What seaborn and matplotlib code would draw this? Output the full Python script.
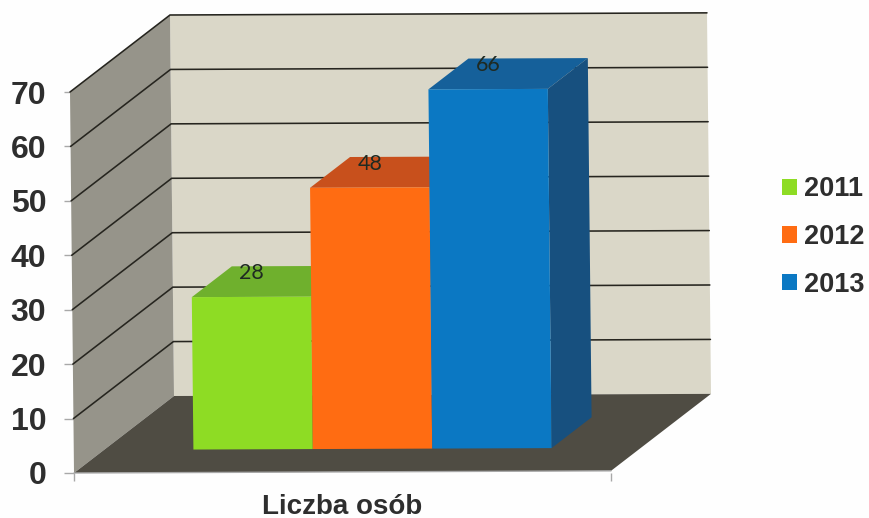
import matplotlib
matplotlib.use("Agg")
import matplotlib.pyplot as plt
import numpy as np
import pandas as pd
import seaborn as sns
from matplotlib.lines import Line2D
from matplotlib.patches import Polygon
from matplotlib.transforms import Affine2D, IdentityTransform

# data
years = ["2011", "2012", "2013"]
values = [28, 48, 66]
category = ["Liczba osób"]
y_ticks = [0, 10, 20, 30, 40, 50, 60, 70]

front_colors = ["#8EDC24", "#FF6C12", "#0B78C3"]
top_colors = ["#6FB02D", "#C8501C", "#15609A"]
side_colors = ["#5C9426", "#A34318", "#17507F"]

WALL = "#DAD7C8"
SIDE_WALL = "#96948A"
FLOOR = "#4F4C43"
GRID = "#26251F"
TEXT = "#2E2E2E"

W, H = 869, 518
DPI = 100

# depth of the fake 3D box in pixels
DEPTH_X, DEPTH_Y = 100, 77
BAR_FRONT = 0.30
BAR_BACK = 0.70

sns.set_style("white")
plt.rcParams["font.family"] = ["Liberation Sans", "DejaVu Sans"]

df = pd.DataFrame({
    "kategoria": category * len(years),
    "rok": years,
    "wartosc": values,
})

fig = plt.figure(figsize=(W / DPI, H / DPI), dpi=DPI, facecolor="#FEFEFE")
ax = fig.add_axes([74 / W, (H - 473) / H, 537 / W, 381 / H])
ax.patch.set_visible(False)

sns.barplot(
    data=df, x="kategoria", y="wartosc", hue="rok", hue_order=years,
    palette=front_colors, width=0.667, saturation=1, linewidth=0, ax=ax,
)
ax.set_xlim(-0.5, 0.5)
ax.set_ylim(0, 70)

# the scan is slightly crooked, so everything in the plot gets a small shear
x0, y0 = ax.transAxes.transform((0, 0))
shear = (
    Affine2D().translate(-x0, -y0)
    + Affine2D.from_values(1, 0.004, -0.0105, 1, 0, 0)
    + Affine2D().translate(x0, y0)
)
to_screen = ax.transData + shear


def px(x, v, d):
    p = to_screen.transform((x, v))
    return (p[0] + d * DEPTH_X, p[1] + d * DEPTH_Y)


def face(points, color, z):
    ax.add_patch(Polygon(
        [px(*p) for p in points], closed=True, facecolor=color, edgecolor="none",
        transform=IdentityTransform(), clip_on=False, zorder=z,
    ))


# ---------------- WALLS AND FLOOR ----------------
x_left, x_right = -0.5, 0.5
top = y_ticks[-1]
face([(x_left, 0, 1), (x_right, 0, 1), (x_right, top, 1), (x_left, top, 1)], WALL, 1)
face([(x_left, 0, 0), (x_left, 0, 1), (x_left, top, 1), (x_left, top, 0)], SIDE_WALL, 1)
face([(x_left, 0, 0), (x_right, 0, 0), (x_right, 0, 1), (x_left, 0, 1)], FLOOR, 1)

for t in y_ticks[1:]:
    pts = [px(x_left, t, 0), px(x_left, t, 1), px(x_right, t, 1)]
    ax.add_line(Line2D(
        [p[0] for p in pts], [p[1] for p in pts], color=GRID, lw=1.15,
        transform=IdentityTransform(), clip_on=False, zorder=2,
        solid_joinstyle="miter",
    ))

# ---------------- BARS ----------------
front_shift = shear + Affine2D().translate(BAR_FRONT * DEPTH_X, BAR_FRONT * DEPTH_Y)
for i, container in enumerate(ax.containers):
    bar = container[0]
    a = bar.get_x()
    b = a + bar.get_width()
    v = bar.get_height()

    bar.set_transform(ax.transData + front_shift)
    bar.set_clip_on(False)
    bar.set_zorder(5)

    face([(a, v, BAR_FRONT), (b, v, BAR_FRONT), (b, v, BAR_BACK), (a, v, BAR_BACK)],
         top_colors[i], 3)
    face([(b, 0, BAR_FRONT), (b, 0, BAR_BACK), (b, v, BAR_BACK), (b, v, BAR_FRONT)],
         side_colors[i], 3)

    tx, ty = px((a + b) / 2, v, BAR_FRONT)
    ax.text(tx, ty + 24, str(int(v)), transform=IdentityTransform(), family="Lato",
            fontsize=15.5, color="#1F2A22", ha="center", va="center", zorder=6)

# ---------------- AXES ----------------
sns.despine(ax=ax, left=True, bottom=True)
ax.set_xlabel("")
ax.set_ylabel("")
ax.set_yticks(y_ticks)
ax.tick_params(axis="y", left=True, length=7, width=1, color="#A8A8A8", pad=13,
               labelsize=23, labelcolor=TEXT)
for lab in ax.get_yticklabels():
    lab.set_fontweight("bold")

ax.set_xticks([0])
ax.set_xticks([x_left, x_right], minor=True)
ax.tick_params(axis="x", which="major", length=0, pad=15, labelsize=20, labelcolor=TEXT)
ax.tick_params(axis="x", which="minor", bottom=True, length=6, width=1, color="#A8A8A8")
for lab in ax.get_xticklabels():
    lab.set_fontweight("bold")

axis_pts = [px(x_left, 0, 0), px(x_right, 0, 0)]
ax.add_line(Line2D([p[0] for p in axis_pts], [p[1] for p in axis_pts], color="#A8A8A8",
                   lw=1, transform=IdentityTransform(), clip_on=False, zorder=2))

# ---------------- LEGEND ----------------
ax.legend(
    title=None, frameon=False, loc="center left",
    bbox_to_anchor=(782 / W, (H - 237) / H), bbox_transform=fig.transFigure,
    prop={"family": "Liberation Sans", "weight": "bold", "size": 19.5},
    labelcolor=TEXT, handlelength=0.55, handleheight=0.55, handletextpad=0.25,
    labelspacing=0.8, borderpad=0, borderaxespad=0,
)

fig.savefig("out.png", dpi=DPI, facecolor=fig.get_facecolor())
